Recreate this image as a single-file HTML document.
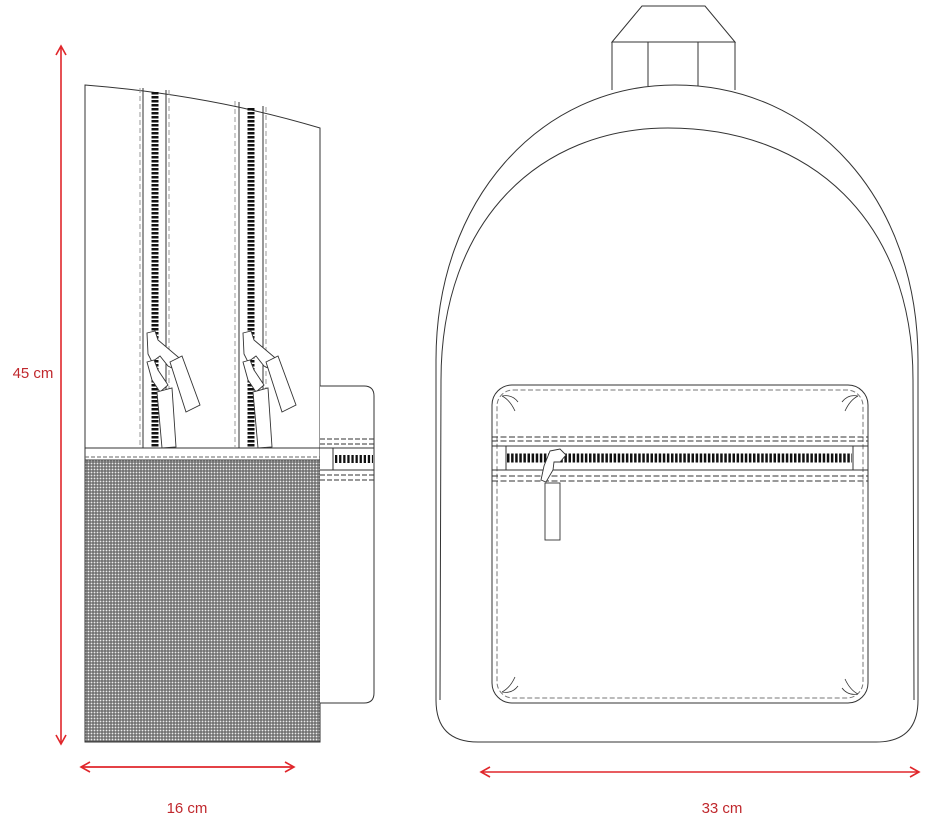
<!DOCTYPE html>
<html><head><meta charset="utf-8"><style>
html,body{margin:0;padding:0;background:#fff;width:936px;height:824px;overflow:hidden}
svg{display:block}
text{font-family:"Liberation Sans",sans-serif;font-size:15px;fill:#c0282d}
</style></head><body>
<svg width="936" height="824" viewBox="0 0 936 824" xmlns="http://www.w3.org/2000/svg">
<defs>
<pattern id="mesh" width="3" height="3" patternUnits="userSpaceOnUse">
<rect width="3" height="3" fill="#606060"/><rect x="0.6" y="0.6" width="1.8" height="1.8" fill="#ececec"/>
</pattern>
<marker id="ah" markerWidth="12" markerHeight="12" refX="10" refY="6" orient="auto-start-reverse" markerUnits="userSpaceOnUse">
<path d="M1,1 L10,6 L1,11" fill="none" stroke="#e0262b" stroke-width="1.6"/>
</marker>
<g id="pull">
<path d="M147,333 L155,331 L158,340 L184,362 L180,372 L168,366 L160,356 L152,362 L148,354 Z" fill="#fff" stroke="#333" stroke-width="0.9"/>
<path d="M170,362 L182,356 L200,405 L186,412 Z" fill="#fff" stroke="#333" stroke-width="0.9"/>
<path d="M147,362 L154,360 L158,370 L168,385 L160,392 L152,380 Z" fill="#fff" stroke="#333" stroke-width="0.9"/>
<path d="M157,392 L172,388 L176,447 L162,448 Z" fill="#fff" stroke="#333" stroke-width="0.9"/>
</g>
</defs>

<line x1="61" y1="46" x2="61" y2="744" stroke="#e0262b" stroke-width="1.6" marker-start="url(#ah)" marker-end="url(#ah)"/>
<text x="33" y="378" text-anchor="middle">45 cm</text>
<line x1="81" y1="767" x2="294" y2="767" stroke="#e0262b" stroke-width="1.8" marker-start="url(#ah)" marker-end="url(#ah)"/>
<text x="187" y="813" text-anchor="middle">16 cm</text>
<line x1="481" y1="772" x2="919" y2="772" stroke="#e0262b" stroke-width="1.6" marker-start="url(#ah)" marker-end="url(#ah)"/>
<text x="722" y="813" text-anchor="middle">33 cm</text>

<g stroke="#333" stroke-width="1" fill="none">
<path d="M85,742 L85,85 Q210,95 320,128 L320,742 Z" fill="#fff"/>
<rect x="85" y="460" width="235" height="282" fill="url(#mesh)" stroke="#333"/>
<line x1="85" y1="448" x2="320" y2="448"/>
<line x1="85" y1="457" x2="320" y2="457" stroke-dasharray="4 2" stroke="#666"/>
<line x1="143" y1="88" x2="143" y2="448"/><line x1="166" y1="90" x2="166" y2="448"/>
<line x1="140" y1="88" x2="140" y2="448" stroke="#999" stroke-dasharray="5 3"/><line x1="169" y1="90" x2="169" y2="448" stroke="#999" stroke-dasharray="5 3"/>
<line x1="239" y1="102" x2="239" y2="448"/><line x1="263" y1="106" x2="263" y2="448"/>
<line x1="235" y1="101" x2="235" y2="448" stroke="#999" stroke-dasharray="5 3"/><line x1="266" y1="107" x2="266" y2="448" stroke="#999" stroke-dasharray="5 3"/>
</g>
<line x1="155" y1="92" x2="155" y2="447" stroke="#111" stroke-width="7" stroke-dasharray="2.5 1.5"/>
<line x1="251" y1="108" x2="251" y2="447" stroke="#111" stroke-width="7" stroke-dasharray="2.5 1.5"/>
<use href="#pull"/>
<use href="#pull" transform="translate(96,0)"/>

<g stroke="#333" stroke-width="1" fill="none">
<path d="M320,386 L364,386 Q374,386 374,396 L374,693 Q374,703 364,703 L320,703" fill="#fff"/>
<line x1="320" y1="439" x2="374" y2="439" stroke-dasharray="5 2"/>
<line x1="320" y1="444" x2="374" y2="444" stroke-dasharray="5 2"/>
<line x1="320" y1="448" x2="374" y2="448"/>
<line x1="320" y1="470" x2="374" y2="470"/>
<line x1="333" y1="448" x2="333" y2="470"/>
<line x1="320" y1="475" x2="374" y2="475" stroke-dasharray="5 2"/>
<line x1="320" y1="480" x2="374" y2="480" stroke-dasharray="5 2"/>
</g>
<line x1="335" y1="459" x2="373" y2="459" stroke="#111" stroke-width="8" stroke-dasharray="2.3 1.8"/>

<g stroke="#333" stroke-width="1" fill="none">
<path d="M642,6 L705,6 L735,42 L612,42 Z" fill="#fff"/>
<line x1="612" y1="42" x2="612" y2="90"/><line x1="648" y1="42" x2="648" y2="86"/>
<line x1="698" y1="42" x2="698" y2="86"/><line x1="735" y1="42" x2="735" y2="90"/>
<path d="M436,700 L436,360 C436,200 540,85 675,85 C815,85 918,200 918,360 L918,700 Q918,742 876,742 L478,742 Q436,742 436,700 Z" fill="#fff"/>
<path d="M440,700 L441,380 C441,220 540,128 668,128 C810,128 913,220 913,380 L914,700"/>
<rect x="492" y="385" width="376" height="318" rx="20" fill="#fff"/>
<rect x="497" y="390" width="366" height="308" rx="16" stroke="#777" stroke-dasharray="5 2.5"/>
<line x1="492" y1="437" x2="868" y2="437" stroke-dasharray="6 2.5"/>
<line x1="492" y1="441" x2="868" y2="441" stroke-dasharray="6 2.5"/>
<line x1="492" y1="446" x2="868" y2="446"/>
<line x1="492" y1="470" x2="868" y2="470"/>
<line x1="506" y1="446" x2="506" y2="470"/><line x1="853" y1="446" x2="853" y2="470"/>
<line x1="492" y1="476" x2="868" y2="476" stroke-dasharray="6 2.5"/>
<line x1="492" y1="481" x2="868" y2="481" stroke-dasharray="6 2.5"/>
<path d="M502,396 Q510,400 515,411 M502,396 Q512,394 518,402" stroke-width="0.8"/>
<path d="M858,396 Q850,400 845,411 M858,396 Q848,394 842,402" stroke-width="0.8"/>
<path d="M502,692 Q510,688 515,677 M502,692 Q512,694 518,686" stroke-width="0.8"/>
<path d="M858,694 Q850,690 845,679 M858,694 Q848,696 842,688" stroke-width="0.8"/>
</g>
<line x1="507" y1="458" x2="852" y2="458" stroke="#111" stroke-width="9" stroke-dasharray="2.5 1.6"/>
<g stroke="#333" stroke-width="0.9" fill="#fff">
<path d="M550,451 L560,449 L566,455 L560,462 L554,462 L553,470 L546,482 L541,480 L544,466 Z"/>
<rect x="545" y="483" width="15" height="57"/>
</g>
</svg>
</body></html>
